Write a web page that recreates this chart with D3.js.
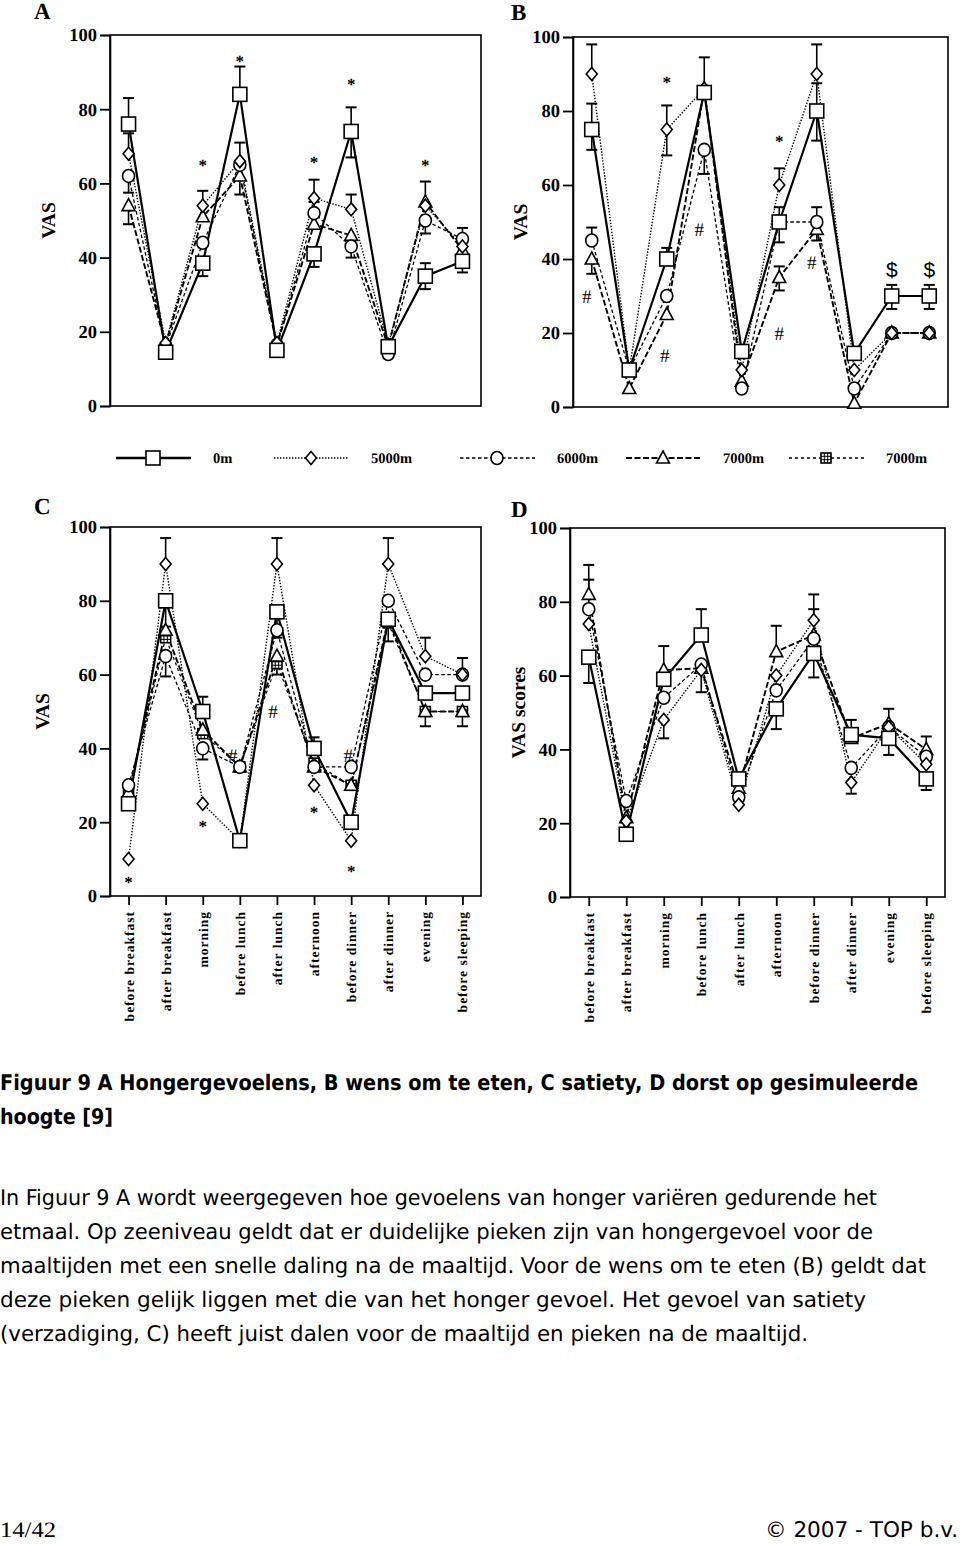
<!DOCTYPE html>
<html><head><meta charset="utf-8">
<script src="https://cdn.jsdelivr.net/npm/d3@7"></script>
<style>body{margin:0;background:#fff}svg{display:block;-webkit-font-smoothing:antialiased}text{text-rendering:geometricPrecision}</style>
</head><body>
<svg id="c" width="960" height="1544"></svg>
<script>
// ---------------- DATA ----------------
const categories = ["before breakfast","after breakfast","morning","before lunch","after lunch","afternoon","before dinner","after dinner","evening","before sleeping"];
const yTicks = [0,20,40,60,80,100];
const seriesNames = ["0m","5000m","6000m","7000m","7000m"];

// Panel A: honger
const A_0m    = [76, 14.5, 38.5, 84, 15, 41, 74, 16, 35, 39];
const A_5000m = [68, 17, 54, 66, 17, 56, 53, 16.5, 54, 43];
const A_6000m = [62, 16, 44, 65, 16.5, 52, 43, 14, 50, 45];
const A_7000m = [54, 16.5, 51, 62, 16.5, 49, 46, 16, 55, 42];
// error bars: [series, category, end value]
const A_err = [[0,0,83],[0,2,35],[0,3,91.5],[0,5,37.5],[0,6,80.5],[0,6,67],[0,8,38.5],[0,8,31.5],[0,9,48],[0,9,36],
  [1,0,73.5],[1,2,58],[1,3,71],[1,5,61],[1,6,57],[1,8,60.5],
  [2,0,57.5],[2,3,57],[2,6,40],[2,8,46.5],
  [3,0,49],[3,5,55]];
const A_marks = [["*",2,66],["*",3,94],["*",5,67],["*",6,88],["*",8,66]];

// Panel B: wens om te eten
const B_0m    = [75, 10, 40, 85, 15, 50, 80, 14.5, 30, 30];
const B_5000m = [90, 10, 75, 86, 10, 60, 90, 10, 20, 20];
const B_6000m = [45, 10, 30, 69.5, 5, 50, 50, 5, 20, 20];
const B_7000m = [40, 5, 25, 86, 7, 35, 48, 1, 20, 20];
const B_err = [[0,0,82],[0,0,69.5],[0,2,43],[0,3,94.5],[0,5,54],[0,5,44.5],[0,6,87.5],[0,6,72],[0,8,33],[0,8,26.5],[0,9,33],[0,9,26.5],
  [1,0,98],[1,2,81.5],[1,2,68],[1,5,64.5],[1,6,98],
  [2,0,48.5],[2,3,63],[2,6,54],[2,6,45],
  [3,0,36],[3,5,38],[3,5,31.5]];
const B_marks = [["*",2,89],["*",5,73],["#",0,30,-5],["#",2,14,-2],["#",3,48,-5],["#",5,20,0],["#",6,39,-5],["$",8,37],["$",9,37]];

// Panel C: satiety
const C_0m    = [25, 80, 50, 15, 77, 40, 20, 75, 55, 55];
const C_5000m = [10, 90, 25, 15, 90, 30, 15, 90, 65, 60];
const C_6000m = [30, 65, 40, 35, 72, 35, 35, 80, 60, 60];
const C_7000m = [28, 72, 45, 35, 65, 35, 30, 75, 50, 50];
const C_7000b = [28, 70, 44, 35, 63, 36, 30, 74, 50, 50];
const C_err = [[0,1,73],[0,2,54],[0,4,70],[0,5,43],[0,7,69],
  [1,1,97],[1,4,97],[1,7,97],[1,8,70],[1,9,64.5],
  [2,1,59.5],[2,2,37],
  [3,4,60],[3,8,46],[3,9,46]];
const C_marks = [["*",0,5],["*",2,20],["#",3,38,-7],["#",4,50,-4],["*",5,24],["#",6,38,-3],["*",6,8]];

// Panel D: dorst
const D_0m    = [65, 17, 59, 71, 32, 51, 66, 44, 43, 32];
const D_5000m = [74, 20.5, 48, 61.5, 25, 60, 75, 31, 46, 36];
const D_6000m = [78, 26, 54, 63, 27, 56, 70, 35, 46, 38];
const D_7000m = [82, 21.5, 61.5, 62, 29.5, 66.5, 71, 43, 47, 40];
const D_err = [[0,0,58],[0,2,68],[0,3,78],[0,5,45.5],[0,6,59.5],[0,7,48],[0,8,38.5],[0,9,29],
  [1,2,43],[1,6,82],[1,7,28],
  [2,0,86],[2,3,55.5],[2,8,51],
  [3,0,90],[3,5,73.5],[3,6,78],[3,9,43.5]];
const D_marks = [];

const captionLines = ["Figuur 9 A Hongergevoelens, B wens om te eten, C satiety, D dorst op gesimuleerde","hoogte [9]"];
const paragraphLines = [
 "In Figuur 9 A wordt weergegeven hoe gevoelens van honger variëren gedurende het",
 "etmaal. Op zeeniveau geldt dat er duidelijke pieken zijn van hongergevoel voor de",
 "maaltijden met een snelle daling na de maaltijd. Voor de wens om te eten (B) geldt dat",
 "deze pieken gelijk liggen met die van het honger gevoel. Het gevoel van satiety",
 "(verzadiging, C) heeft juist dalen voor de maaltijd en pieken na de maaltijd."];

// ---------------- STYLE / LAYOUT ----------------
const SERIF = "'Liberation Serif','DejaVu Serif',serif";
const SANS = "'DejaVu Sans Condensed','DejaVu Sans',sans-serif";
const styles = [
  {dash:null, w:2.2, marker:"square"},
  {dash:"1.4,1.6", w:1.4, marker:"diamond"},
  {dash:"3.5,2.5", w:1.3, marker:"circle"},
  {dash:"6,2.5", w:1.9, marker:"triangle"},
  {dash:"3,3", w:1.2, marker:"hash"}
];
const panels = [
  {letter:"A", title:"VAS", box:[110,35,481,406], series:[A_0m,A_5000m,A_6000m,A_7000m,null], err:A_err, marks:A_marks, xlab:false, letterPos:[34,19], titleX:48},
  {letter:"B", title:"VAS", box:[573,37,948,407], series:[B_0m,B_5000m,B_6000m,B_7000m,null], err:B_err, marks:B_marks, xlab:false, letterPos:[511,20], titleX:520},
  {letter:"C", title:"VAS", box:[110,527,481,896], series:[C_0m,C_5000m,C_6000m,C_7000m,C_7000b], err:C_err, marks:C_marks, xlab:true, letterPos:[34,514], titleX:42},
  {letter:"D", title:"VAS scores", box:[570,528,945,897], series:[D_0m,D_5000m,D_6000m,D_7000m,null], err:D_err, marks:D_marks, xlab:true, letterPos:[511,517], titleX:518}
];

const svg = d3.select("#c");
svg.append("rect").attr("width",960).attr("height",1544).attr("fill","#fff");

function drawMarker(g, type, x, y) {
  const st = {stroke:"#000","stroke-width":1.6, fill:"#fff"};
  let el;
  if (type==="square") el = g.append("rect").attr("x",x-7).attr("y",y-7).attr("width",14).attr("height",14);
  else if (type==="diamond") el = g.append("path").attr("d",`M${x},${y-6.5}L${x+5.5},${y}L${x},${y+6.5}L${x-5.5},${y}Z`);
  else if (type==="circle") el = g.append("ellipse").attr("cx",x).attr("cy",y).attr("rx",6).attr("ry",6.5);
  else if (type==="triangle") el = g.append("path").attr("d",`M${x},${y-7}L${x+6.5},${y+5}L${x-6.5},${y+5}Z`);
  else if (type==="hash") {
    el = g.append("rect").attr("x",x-5).attr("y",y-5).attr("width",10).attr("height",10);
    Object.entries(st).forEach(([k,v])=>el.attr(k,v));
    g.append("path").attr("d",`M${x-1.7},${y-5}V${y+5}M${x+1.7},${y-5}V${y+5}M${x-5},${y-1.7}H${x+5}M${x-5},${y+1.7}H${x+5}`)
      .attr("stroke","#000").attr("stroke-width",1);
    return;
  }
  Object.entries(st).forEach(([k,v])=>el.attr(k,v));
}

panels.forEach(p => {
  const [x0,y0,x1,y1] = p.box;
  const x = d3.scalePoint().domain(categories).range([x0,x1]).padding(0.5);
  const y = d3.scaleLinear().domain([0,100]).range([y1,y0]);
  const g = svg.append("g");

  g.append("rect").attr("x",x0).attr("y",y0).attr("width",x1-x0).attr("height",y1-y0)
    .attr("fill","none").attr("stroke","#000").attr("stroke-width",1.6);

  const ya = g.append("g").attr("transform",`translate(${x0},0)`)
    .call(d3.axisLeft(y).tickValues(yTicks).tickSize(10).tickPadding(3).tickFormat(d3.format("d")));
  ya.select(".domain").attr("stroke-width",1.6);
  ya.selectAll(".tick line").attr("stroke-width",1.8);
  ya.selectAll("text").attr("font-family",SERIF).attr("font-weight","bold").attr("font-size",18.5).attr("fill","#000");

  if (p.xlab) {
    const xa = g.append("g").attr("transform",`translate(0,${y1})`)
      .call(d3.axisBottom(x).tickSize(9).tickSizeOuter(0));
    xa.select(".domain").remove();
    xa.selectAll(".tick line").attr("stroke-width",1.8);
    xa.selectAll("text").attr("font-family",SERIF).attr("font-weight","bold").attr("font-size",13.5)
      .attr("letter-spacing","1px").attr("fill","#000")
      .attr("transform","rotate(-90)").attr("text-anchor","end")
      .attr("x",-15).attr("y",0).attr("dy","0.33em");
  }

  g.append("text").attr("transform",`translate(${p.titleX},${(y0+y1)/2}) rotate(-90)`)
    .attr("text-anchor","middle").attr("dy","0.35em")
    .attr("font-family",SERIF).attr("font-weight","bold").attr("font-size",19.5).text(p.title);
  g.append("text").attr("x",p.letterPos[0]).attr("y",p.letterPos[1])
    .attr("font-family",SERIF).attr("font-weight","bold").attr("font-size",23).text(p.letter);

  const order = [4,3,2,1,0];
  const line = d3.line().x((d,i)=>x(categories[i])).y(d=>y(d));
  order.forEach(si => {
    const s = p.series[si]; if (!s) return;
    const st = styles[si];
    g.append("path").datum(s).attr("d",line).attr("fill","none").attr("stroke","#000")
      .attr("stroke-width",st.w).attr("stroke-dasharray",st.dash);
  });
  p.err.forEach(([si,ci,end]) => {
    const s = p.series[si]; if (!s) return;
    const cx = x(categories[ci]);
    g.append("line").attr("x1",cx).attr("x2",cx).attr("y1",y(s[ci])).attr("y2",y(end))
      .attr("stroke","#000").attr("stroke-width",1.6);
    g.append("line").attr("x1",cx-5.5).attr("x2",cx+5.5).attr("y1",y(end)).attr("y2",y(end))
      .attr("stroke","#000").attr("stroke-width",2);
  });
  order.forEach(si => {
    const s = p.series[si]; if (!s) return;
    s.forEach((v,i) => drawMarker(g, styles[si].marker, x(categories[i]), y(v)));
  });
  p.marks.forEach(([sym,ci,v,dx]) => {
    const t = g.append("text").attr("x",x(categories[ci])+(dx||0)).attr("y",y(v))
      .attr("text-anchor","middle").text(sym).attr("fill","#000");
    if (sym==="*") t.attr("font-family",SERIF).attr("font-weight","bold").attr("font-size",17).attr("dy","0.6em");
    else if (sym==="#") t.attr("font-family",SERIF).attr("font-size",19).attr("dy","0.35em");
    else t.attr("font-family","'Liberation Sans',sans-serif").attr("font-size",21).attr("dy","0.35em");
  });
});

// legend
const legendStarts = [116,274,460,626,789];
const lg = svg.append("g");
seriesNames.forEach((name,i) => {
  const sx = legendStarts[i], ly = 458, st = styles[i];
  lg.append("line").attr("x1",sx).attr("x2",sx+75).attr("y1",ly).attr("y2",ly)
    .attr("stroke","#000").attr("stroke-width",i===0?2.6:st.w+0.3).attr("stroke-dasharray",st.dash);
  drawMarker(lg, st.marker, sx+37, ly);
  lg.append("text").attr("x",sx+97).attr("y",ly+5).attr("font-family",SERIF).attr("font-weight","bold")
    .attr("font-size",14.5).text(name);
});

// caption and paragraph
const capW = [918,113];
captionLines.forEach((t,i)=>{
  svg.append("text").attr("x",0).attr("y",1090+i*34).attr("font-family",SANS).attr("font-weight","bold")
    .attr("font-size",21.5).attr("textLength",capW[i]).attr("lengthAdjust","spacingAndGlyphs").text(t);
});
const parW = [877,873,926,866,808];
paragraphLines.forEach((t,i)=>{
  svg.append("text").attr("x",0).attr("y",1205+i*34).attr("font-family",SANS)
    .attr("font-size",21.5).attr("textLength",parW[i]).attr("lengthAdjust","spacingAndGlyphs").text(t);
});
svg.append("text").attr("x",0).attr("y",1537).attr("font-family",SERIF).attr("font-size",22)
  .attr("textLength",56).attr("lengthAdjust","spacingAndGlyphs").text("14/42");
svg.append("text").attr("x",765).attr("y",1537).attr("font-family",SANS).attr("font-size",21.5)
  .attr("textLength",193).attr("lengthAdjust","spacingAndGlyphs").text("©  2007 - TOP b.v.");
</script>
</body></html>
